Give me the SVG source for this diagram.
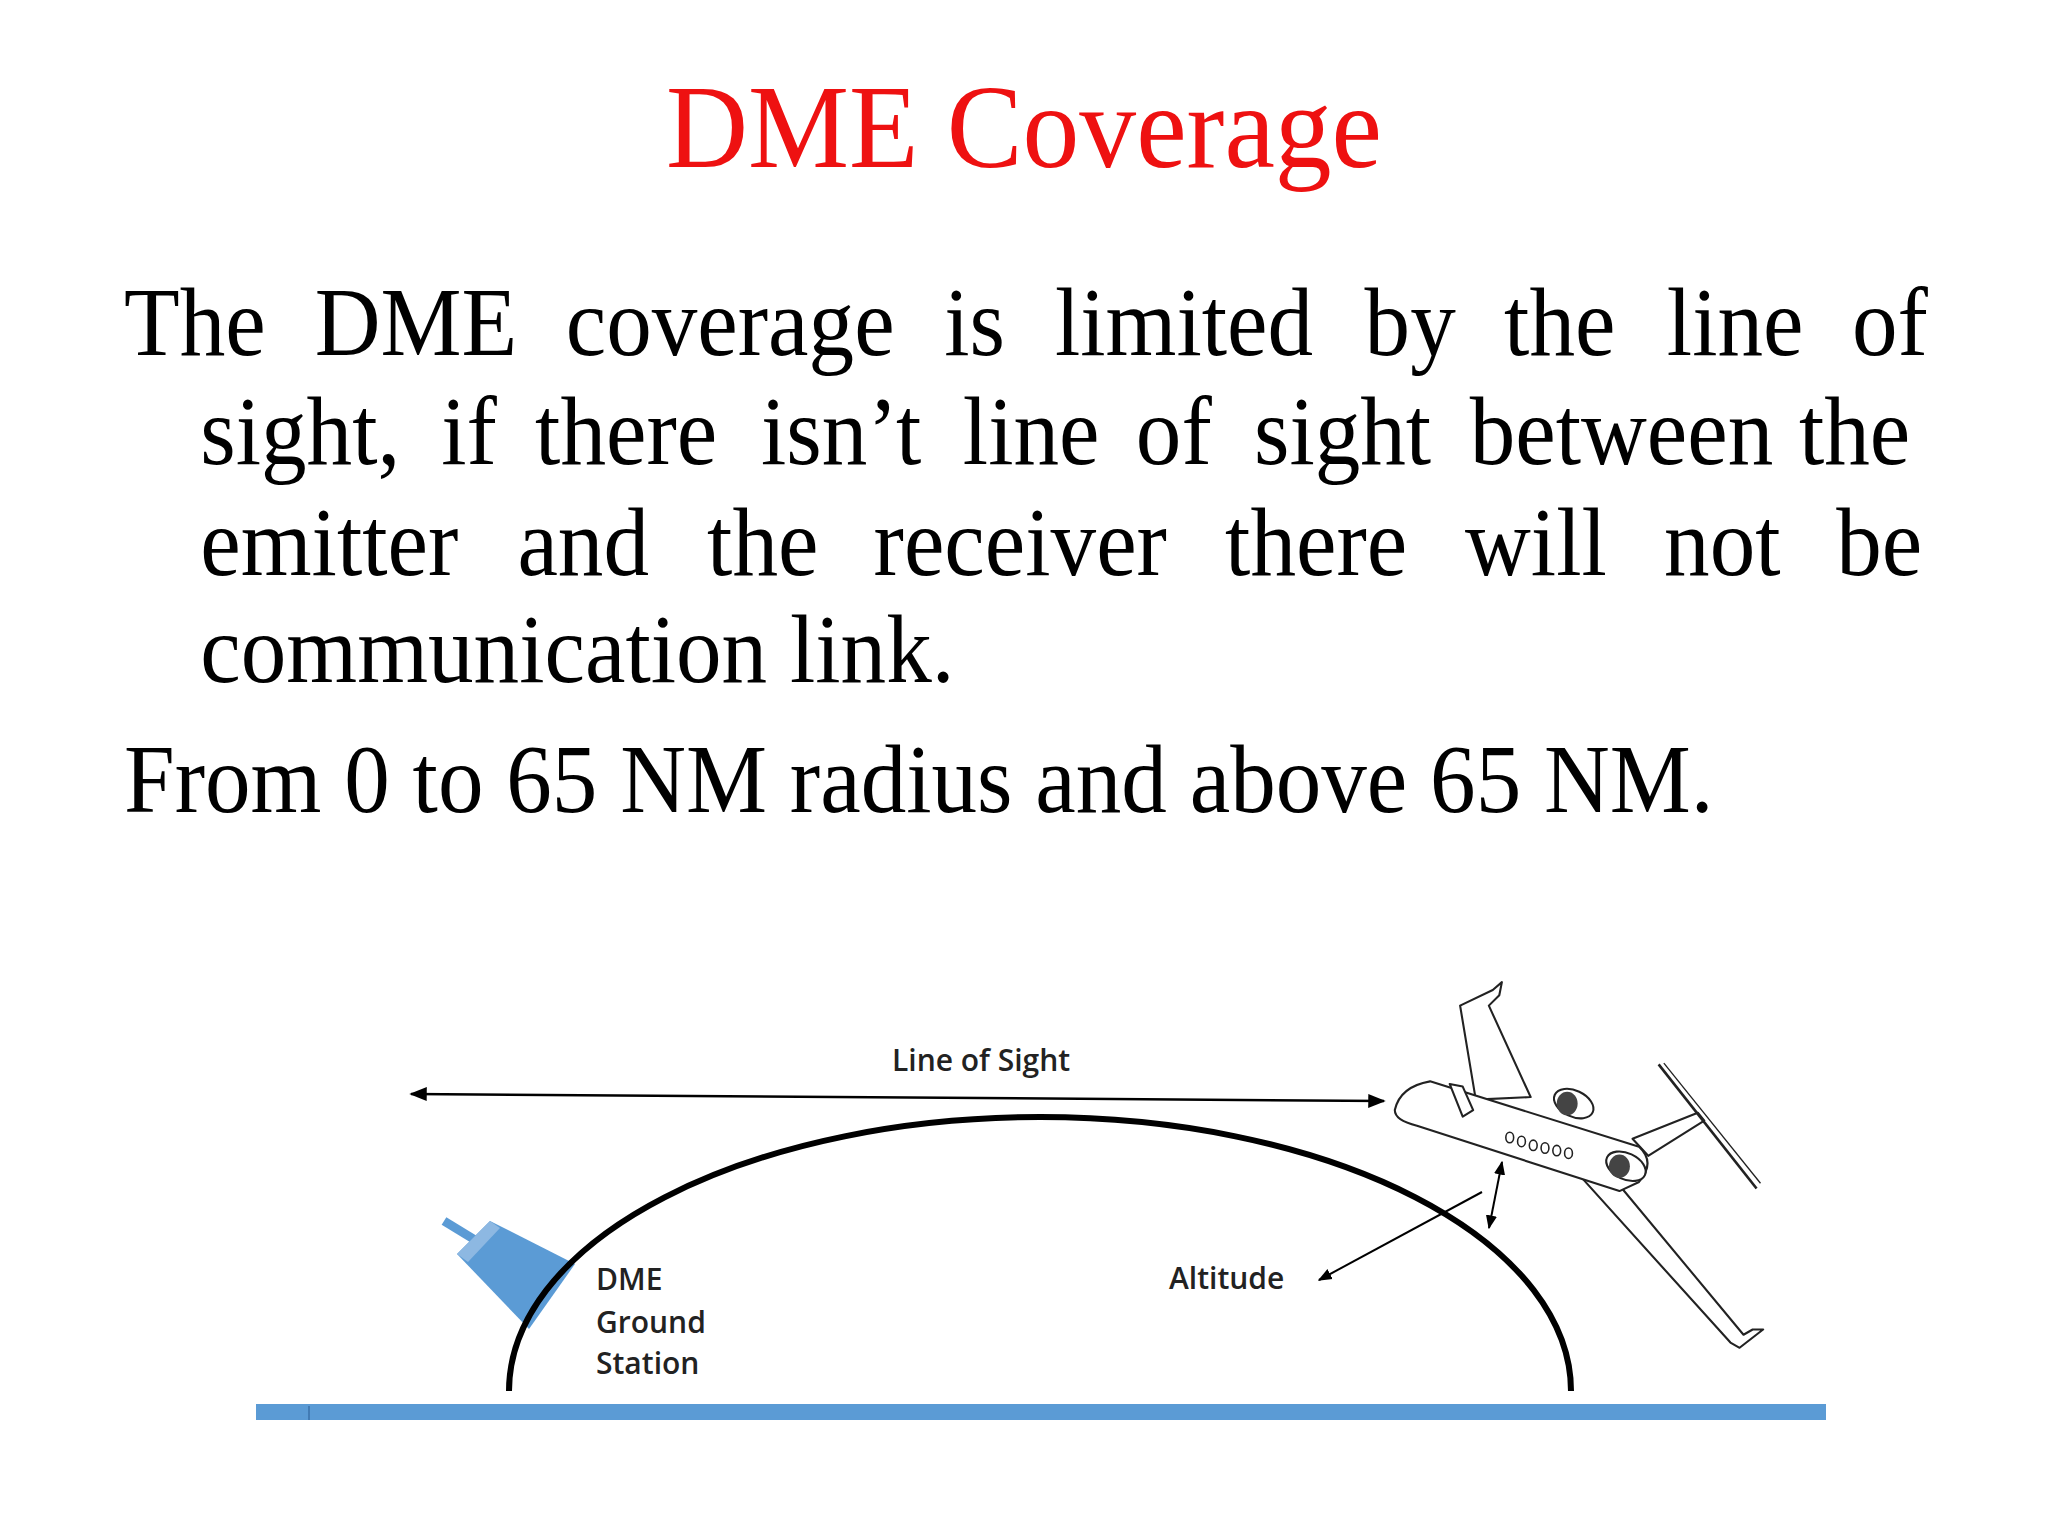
<svg xmlns="http://www.w3.org/2000/svg" width="2048" height="1536" viewBox="0 0 2048 1536">
<defs>
<marker id="ah" viewBox="0 0 10 10" refX="9" refY="5" markerWidth="7" markerHeight="7" orient="auto-start-reverse"><path d="M0,1 L10,5 L0,9 z" fill="#000"/></marker>
<style>
.body{font-family:"Liberation Serif","Times New Roman",serif;font-size:98px;fill:#000}
.lab{font-family:"Open Sans","Liberation Sans",sans-serif;font-weight:600;font-size:30px;fill:#222}
.pl{fill:#fff;stroke:#222;stroke-width:1.6;stroke-linejoin:round}
</style>
</defs>
<rect width="2048" height="1536" fill="#fff"/>
<g id="title"><text x="666" y="167" textLength="716" lengthAdjust="spacingAndGlyphs" font-family="Liberation Serif, serif" font-size="118" fill="#ee1111">DME Coverage</text></g>
<g id="text" transform="translate(124,0) scale(0.93,1) translate(-124,0)">
<text class="body" y="355"><tspan x="124">The</tspan><tspan x="329">DME</tspan><tspan x="599">coverage</tspan><tspan x="1006">is</tspan><tspan x="1125">limited</tspan><tspan x="1458">by</tspan><tspan x="1608">the</tspan><tspan x="1783">line</tspan><tspan x="1982">of</tspan></text>
<text class="body" y="464"><tspan x="206">sight,</tspan><tspan x="465">if</tspan><tspan x="566">there</tspan><tspan x="809">isn’t</tspan><tspan x="1026">line</tspan><tspan x="1212">of</tspan><tspan x="1339">sight</tspan><tspan x="1571">between</tspan><tspan x="1925">the</tspan></text>
<text class="body" y="575"><tspan x="206">emitter</tspan><tspan x="547">and</tspan><tspan x="751">the</tspan><tspan x="930">receiver</tspan><tspan x="1308">there</tspan><tspan x="1566">will</tspan><tspan x="1780">not</tspan><tspan x="1965">be</tspan></text>
<text class="body" x="206" y="682">communication link.</text>
<text class="body" x="124" y="812">From 0 to 65 NM radius and above 65 NM.</text>
</g>
<g id="ground"><rect x="256" y="1404" width="1570" height="16" fill="#5b9bd5"/><line x1="309" y1="1406" x2="309" y2="1420" stroke="#3a70a8" stroke-width="1.5"/></g>
<g id="antenna">
<line x1="444" y1="1221" x2="480" y2="1243" stroke="#5b9bd5" stroke-width="9"/>
<polygon points="457,1254 490,1221 575,1264 529,1329" fill="#5b9bd5"/>
<polygon points="457,1254 490,1221 500,1228 468,1262" fill="#8db8e2"/>
</g>
<g id="arch"><path d="M509 1391 A531 274 0 0 1 1571 1391" fill="none" stroke="#000" stroke-width="6"/></g>
<g id="labels">
<text class="lab" x="892" y="1071">Line of Sight</text>
<text class="lab" x="596" y="1290">DME</text>
<text class="lab" x="596" y="1333">Ground</text>
<text class="lab" x="596" y="1374">Station</text>
<text class="lab" x="1169" y="1289">Altitude</text>
</g>
<g id="plane" transform="scale(1.306)">
<path class="pl" d="M1130 842 L1118 770 L1143 758 L1150 752 L1148 762 L1140 770 L1172 840 z"/>
<path class="pl" d="M1205 895 L1325 1028 L1332 1032 L1350 1018 L1342 1018 L1335 1022 L1232 898 z"/>
<path class="pl" d="M1250 872 L1300 852 L1305 858 L1262 885 z"/>
<line x1="1270" y1="815" x2="1345" y2="910" stroke="#222" stroke-width="2"/>
<line x1="1274" y1="814" x2="1348" y2="906" stroke="#222" stroke-width="1"/>
<path class="pl" d="M1068 850 Q1072 832 1095 828 L1255 878 Q1268 890 1255 905 L1240 912 L1085 862 Q1068 858 1068 850 z"/>
<path class="pl" d="M1110 830 L1120 855 L1128 850 L1120 832 z"/>
<ellipse cx="1205" cy="845" rx="16" ry="10" transform="rotate(25 1205 845)" class="pl"/>
<ellipse cx="1200" cy="845" rx="8" ry="9" fill="#444"/>
<ellipse cx="1245" cy="893" rx="16" ry="10" transform="rotate(25 1245 893)" class="pl"/>
<ellipse cx="1240" cy="893" rx="8" ry="9" fill="#444"/>
<g fill="none" stroke="#222" stroke-width="1.2">
<ellipse cx="1156" cy="871" rx="3" ry="4"/><ellipse cx="1165" cy="874" rx="3" ry="4"/><ellipse cx="1174" cy="877" rx="3" ry="4"/><ellipse cx="1183" cy="879" rx="3" ry="4"/><ellipse cx="1192" cy="881" rx="3" ry="4"/><ellipse cx="1201" cy="883" rx="3" ry="4"/>
</g>
</g>
<g id="connectors" stroke="#000" fill="none">
<line x1="411" y1="1094" x2="1384" y2="1101" stroke-width="2.5" marker-start="url(#ah)" marker-end="url(#ah)"/>
<line x1="1319" y1="1280" x2="1482" y2="1192" stroke-width="2" marker-start="url(#ah)"/>
<line x1="1502" y1="1162" x2="1489" y2="1228" stroke-width="2" marker-start="url(#ah)" marker-end="url(#ah)"/>
</g>
</svg>
